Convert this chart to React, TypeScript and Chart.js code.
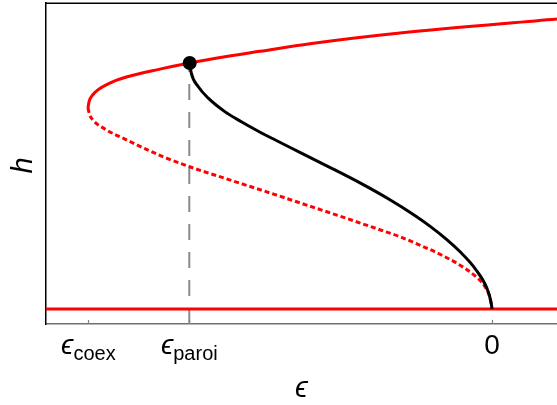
import React, { useEffect, useRef } from "react";
import { Chart, registerables } from "chart.js";

Chart.register(...registerables);

// ε axis range and h axis range
const xMin = -1.105;
const xMax = 0.161;
const yMin = -0.049;
const yMax = 1.0;

// upper stable branch (solid red), from the fold to the right
const upperEps = [-1.001, -0.9985, -0.989, -0.947, -0.906, -0.823, -0.749, -0.658, -0.575, -0.451, -0.228, 0.161];
const upperH = [0.657, 0.677, 0.7, 0.738, 0.758, 0.784, 0.804, 0.825, 0.842, 0.867, 0.902, 0.948];

// lower unstable branch (dashed red), from the fold down to 0
const lowerEps = [-1.001, -0.997, -0.989, -0.96, -0.906, -0.823, -0.749, -0.65, -0.575, -0.451, -0.36, -0.278, -0.228, -0.179, -0.129, -0.079, -0.042, -0.017, -0.005, 0];
const lowerH = [0.657, 0.635, 0.618, 0.589, 0.553, 0.502, 0.465, 0.422, 0.39, 0.336, 0.296, 0.259, 0.236, 0.209, 0.179, 0.143, 0.108, 0.072, 0.036, 0];

// wall branch (black)
const wallEps = [-0.749, -0.745, -0.728, -0.703, -0.662, -0.621, -0.579, -0.538, -0.476, -0.402, -0.327, -0.253, -0.195, -0.154, -0.112, -0.079, -0.046, -0.013, -0.0025, 0];
const wallH = [0.804, 0.771, 0.727, 0.689, 0.645, 0.612, 0.581, 0.553, 0.512, 0.463, 0.412, 0.357, 0.309, 0.271, 0.227, 0.187, 0.139, 0.069, 0.023, 0];

// h = 0 branch
const baseEps = [xMin, xMax];
const baseH = [0, 0];

// marked point at ε_paroi
const paroiEps = -0.749;
const paroiH = 0.804;

// ticks
const tickValues = [-1, -0.75, 0];
const tickMain = ["\u03F5", "\u03F5", "0"];
const tickSub = ["coex", "paroi", ""];
const xTitle = "\u03F5";
const yTitle = "h";

const FONT = '"Liberation Sans", "DejaVu Sans", Arial, sans-serif';

const pts = (xs: number[], ys: number[]) => xs.map((x, i) => ({ x, y: ys[i] }));

const labelPlugin = {
  id: "customLabels",
  afterDraw(chart: any) {
    const ctx = chart.ctx as CanvasRenderingContext2D;
    const { left, right, top, bottom } = chart.chartArea;
    const xs = chart.scales.x;
    ctx.save();
    // top spine
    ctx.strokeStyle = "#000";
    ctx.lineWidth = 1.5;
    ctx.beginPath();
    ctx.moveTo(left - 0.75, Math.round(top) + 0.25);
    ctx.lineTo(right, Math.round(top) + 0.25);
    ctx.stroke();
    // inward ticks
    ctx.strokeStyle = "#808080";
    ctx.lineWidth = 1.2;
    tickValues.forEach((v) => {
      const px = Math.round(xs.getPixelForValue(v)) + 0.5;
      ctx.beginPath();
      ctx.moveTo(px, bottom);
      ctx.lineTo(px, bottom - 4);
      ctx.stroke();
    });
    // tick labels
    ctx.fillStyle = "#000";
    ctx.textBaseline = "alphabetic";
    ctx.textAlign = "left";
    tickValues.forEach((v, i) => {
      const px = xs.getPixelForValue(v);
      const isGreek = tickMain[i] !== "0";
      const mainFont = (isGreek ? "italic " : "") + "28px " + FONT;
      const subFont = "20px " + FONT;
      ctx.font = mainFont;
      const mw = ctx.measureText(tickMain[i]).width;
      ctx.font = subFont;
      const sw = tickSub[i] ? ctx.measureText(tickSub[i]).width : 0;
      const start = px - (mw + sw) / 2;
      ctx.font = mainFont;
      ctx.fillText(tickMain[i], start, bottom + 29.5);
      if (tickSub[i]) {
        ctx.font = subFont;
        ctx.fillText(tickSub[i], start + mw, bottom + 36);
      }
    });
    // x title
    ctx.font = "italic 29px " + FONT;
    ctx.textAlign = "center";
    ctx.fillText(xTitle, (left + right) / 2, 396.5);
    // y title
    ctx.translate(31.5, (top + bottom) / 2 + 2);
    ctx.rotate(-Math.PI / 2);
    ctx.font = "italic 29px " + FONT;
    ctx.textAlign = "center";
    ctx.fillText(yTitle, 0, 0);
    ctx.restore();
  },
};

export default function App() {
  const canvasRef = useRef<HTMLCanvasElement | null>(null);

  useEffect(() => {
    document.body.style.margin = "0";
    document.body.style.overflow = "hidden";
    const canvas = canvasRef.current;
    if (!canvas) return;
    const lineCommon = {
      showLine: true,
      pointRadius: 0,
      borderWidth: 3,
      cubicInterpolationMode: "monotone" as const,
    };
    const chart = new Chart(canvas, {
      type: "scatter",
      data: {
        datasets: [
          {
            data: [{ x: paroiEps, y: paroiH }],
            pointRadius: 7,
            pointBackgroundColor: "#000",
            pointBorderWidth: 0,
            showLine: false,
          },
          { ...lineCommon, data: pts(wallEps, wallH), borderColor: "#000" },
          { ...lineCommon, data: pts(upperEps, upperH), borderColor: "#ff0000" },
          { ...lineCommon, data: pts(lowerEps, lowerH), borderColor: "#ff0000", borderDash: [5, 3] },
          {
            data: pts(baseEps, baseH),
            showLine: true,
            borderColor: "#ff0000",
            borderWidth: 3,
            pointRadius: 0,
          },
          {
            data: [
              { x: -0.75, y: yMin },
              { x: -0.75, y: paroiH },
            ],
            showLine: true,
            borderColor: "#8a8a8a",
            borderWidth: 2,
            borderDash: [16, 12],
            pointRadius: 0,
          },
        ],
      },
      options: {
        animation: false,
        responsive: false,
        maintainAspectRatio: false,
        devicePixelRatio: 1,
        events: [],
        layout: { autoPadding: false, padding: { top: 3, left: 0, right: 0, bottom: 0 } },
        plugins: { legend: { display: false }, tooltip: { enabled: false } },
        scales: {
          x: {
            type: "linear",
            min: xMin,
            max: xMax,
            ticks: { display: false },
            grid: { display: false },
            border: { display: true, color: "#707070", width: 1.5 },
            afterFit: (s: any) => {
              s.height = 81;
            },
          },
          y: {
            type: "linear",
            min: yMin,
            max: yMax,
            ticks: { display: false },
            grid: { display: false },
            border: { display: true, color: "#000", width: 1.5 },
            afterFit: (s: any) => {
              s.width = 46;
            },
          },
        },
      },
      plugins: [labelPlugin],
    });
    return () => chart.destroy();
  }, []);

  return (
    <div style={{ width: 557, height: 405, position: "relative" }}>
      <canvas ref={canvasRef} width={557} height={405} style={{ display: "block" }} />
    </div>
  );
}
